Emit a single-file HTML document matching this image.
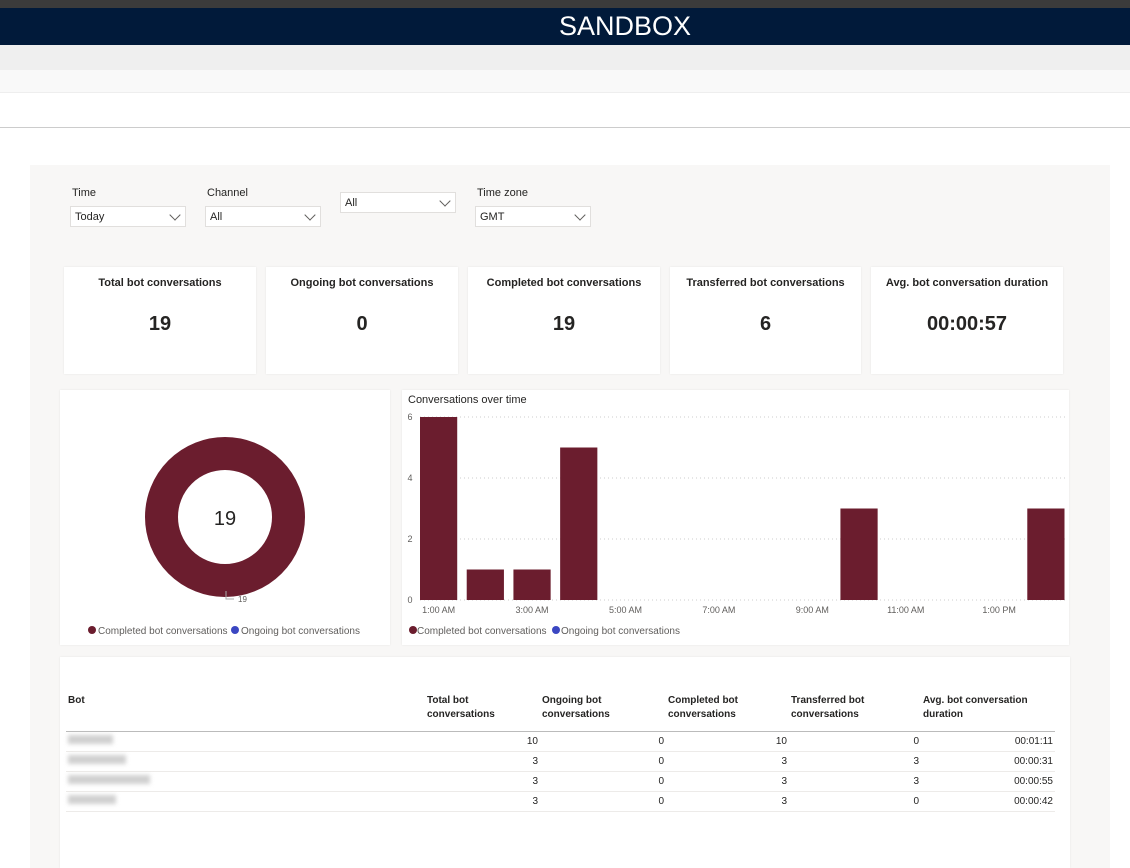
<!DOCTYPE html>
<html><head><meta charset="utf-8"><style>
*{box-sizing:border-box;margin:0;padding:0}
body{width:1130px;height:868px;overflow:hidden;background:#fff;font-family:"Liberation Sans",sans-serif;color:#252423;position:relative}
.abs{position:absolute}
.card{position:absolute;background:#fff;box-shadow:0 0 2px rgba(0,0,0,.08)}
.lbl{font-size:11px}
.dd{position:absolute;width:116px;height:21px;background:#fff;border:1px solid #e1dfdd;font-size:11px;padding:4px 4px}
.dd:after{content:"";position:absolute;right:6px;top:4px;width:7px;height:7px;border-right:1px solid #605e5c;border-bottom:1px solid #605e5c;transform:rotate(45deg)}
.kpi .t{position:absolute;top:10px;width:100%;text-align:center;font-size:11px;font-weight:bold}
.kpi .v{position:absolute;top:46px;width:100%;text-align:center;font-size:20px;font-weight:bold}
table{border-collapse:collapse;font-size:10px}
td,th{height:20px;border-bottom:1px solid #edebe9;padding:0 2px}
th{font-weight:bold;text-align:left;vertical-align:top;border-bottom:1px solid #bbb;height:58px;padding-top:21px;line-height:14px}
td.n{text-align:right}
.blur{display:inline-block;height:9px;background:#d0d0d0;filter:blur(2px)}
</style></head><body>
<div class="abs" style="left:0;top:0;width:1130px;height:8px;background:#3b3b3b"></div>
<div class="abs" style="left:0;top:8px;width:1130px;height:37px;background:#011a3a;color:#fff;font-size:27px;text-align:center;line-height:37px;padding-left:120px">SANDBOX</div>
<div class="abs" style="left:0;top:45px;width:1130px;height:25px;background:#efefef"></div>
<div class="abs" style="left:0;top:70px;width:1130px;height:23px;background:#f9f9f9;border-bottom:1px solid #eee"></div>
<div class="abs" style="left:0;top:127px;width:1130px;height:1px;background:#ccc"></div>
<div class="abs" style="left:30px;top:165px;width:1080px;height:703px;background:#f8f7f6"></div>

<div class="abs lbl" style="left:72px;top:187px">Time</div>
<div class="dd" style="left:70px;top:206px">Today</div>
<div class="abs lbl" style="left:207px;top:187px">Channel</div>
<div class="dd" style="left:205px;top:206px">All</div>
<div class="dd" style="left:340px;top:192px">All</div>
<div class="abs lbl" style="left:477px;top:187px">Time zone</div>
<div class="dd" style="left:475px;top:206px">GMT</div>

<div class="card kpi" style="left:64px;top:267px;width:192px;height:107px"><div class="t">Total bot conversations</div><div class="v">19</div></div>
<div class="card kpi" style="left:266px;top:267px;width:192px;height:107px"><div class="t">Ongoing bot conversations</div><div class="v">0</div></div>
<div class="card kpi" style="left:468px;top:267px;width:192px;height:107px"><div class="t">Completed bot conversations</div><div class="v">19</div></div>
<div class="card kpi" style="left:670px;top:267px;width:191px;height:107px"><div class="t">Transferred bot conversations</div><div class="v">6</div></div>
<div class="card kpi" style="left:871px;top:267px;width:192px;height:107px"><div class="t">Avg. bot conversation duration</div><div class="v">00:00:57</div></div>

<div class="card" style="left:60px;top:390px;width:330px;height:255px">
<svg width="330" height="255">
<circle cx="165" cy="127" r="63.5" fill="none" stroke="#6b1d2e" stroke-width="33"/>
<text x="165" y="135" text-anchor="middle" font-size="20" fill="#252423" font-family="Liberation Sans">19</text>
<polyline points="166,201 166,209 174,209" fill="none" stroke="#aaa"/>
<text x="178" y="212" font-size="8" fill="#605e5c" font-family="Liberation Sans">19</text>
<circle cx="32" cy="240" r="4" fill="#6b1d2e"/><text x="38" y="244" font-size="10" fill="#605e5c" font-family="Liberation Sans">Completed bot conversations</text>
<circle cx="175" cy="240" r="4" fill="#3b47c2"/><text x="181" y="244" font-size="10" fill="#605e5c" font-family="Liberation Sans">Ongoing bot conversations</text>
</svg></div>

<div class="card" style="left:402px;top:390px;width:667px;height:255px">
<svg id="bc" width="667" height="255" font-family="Liberation Sans">
<text x="6" y="13" font-size="11" fill="#252423">Conversations over time</text>
<circle cx="11" cy="240" r="4" fill="#6b1d2e"/><text x="15" y="244" font-size="10" fill="#605e5c">Completed bot conversations</text>
<circle cx="154" cy="240" r="4" fill="#3b47c2"/><text x="159" y="244" font-size="10" fill="#605e5c">Ongoing bot conversations</text>
</svg></div>

<div class="card" style="left:60px;top:657px;width:1010px;height:211px">
<table style="position:absolute;left:6px;top:16px;width:989px">
<tr><th style="width:359px">Bot</th><th style="width:115px">Total bot<br>conversations</th><th style="width:126px">Ongoing bot<br>conversations</th><th style="width:123px">Completed bot<br>conversations</th><th style="width:132px">Transferred bot<br>conversations</th><th>Avg. bot conversation<br>duration</th></tr>
<tr><td><span class="blur" style="width:45px"></span></td><td class="n">10</td><td class="n">0</td><td class="n">10</td><td class="n">0</td><td class="n">00:01:11</td></tr>
<tr><td><span class="blur" style="width:58px"></span></td><td class="n">3</td><td class="n">0</td><td class="n">3</td><td class="n">3</td><td class="n">00:00:31</td></tr>
<tr><td><span class="blur" style="width:82px"></span></td><td class="n">3</td><td class="n">0</td><td class="n">3</td><td class="n">3</td><td class="n">00:00:55</td></tr>
<tr><td><span class="blur" style="width:48px"></span></td><td class="n">3</td><td class="n">0</td><td class="n">3</td><td class="n">0</td><td class="n">00:00:42</td></tr>
</table></div>

<script>
const hours=["1:00 AM","2:00 AM","3:00 AM","4:00 AM","5:00 AM","6:00 AM","7:00 AM","8:00 AM","9:00 AM","10:00 AM","11:00 AM","12:00 PM","1:00 PM","2:00 PM"];
const completed=[6,1,1,5,0,0,0,0,0,3,0,0,0,3];
const yTicks=[0,2,4,6];
const svg=document.getElementById('bc');const NS='http://www.w3.org/2000/svg';
const x0=18,x1=672,y0=210,yTop=27,yMax=6;
const step=(x1-x0)/hours.length;
const y=v=>y0-(v/yMax)*(y0-yTop);
function mk(t,a){const e=document.createElementNS(NS,t);for(const k in a)e.setAttribute(k,a[k]);svg.appendChild(e);return e;}
yTicks.forEach(t=>{
 const l=mk('line',{x1:x0,x2:663,y1:y(t),y2:y(t),stroke:'#ccc','stroke-dasharray':'1,3'});
 
 
 const tx=mk('text',{x:8,y:y(t)+3,'font-size':9,fill:'#605e5c','text-anchor':'middle'});tx.textContent=t;
 
 
});
completed.forEach((v,i)=>{
 const r=mk('rect',{x:x0+i*step,y:y(v),width:step-9.5,height:y0-y(v),fill:'#6b1d2e'});
 
 
 if(i%2===0){const tx=mk('text',{x:x0+i*step+(step-9.5)/2,y:y0+13,'font-size':9,fill:'#605e5c','text-anchor':'middle'});tx.textContent=hours[i];
 
 }
});
</script>
</body></html>
